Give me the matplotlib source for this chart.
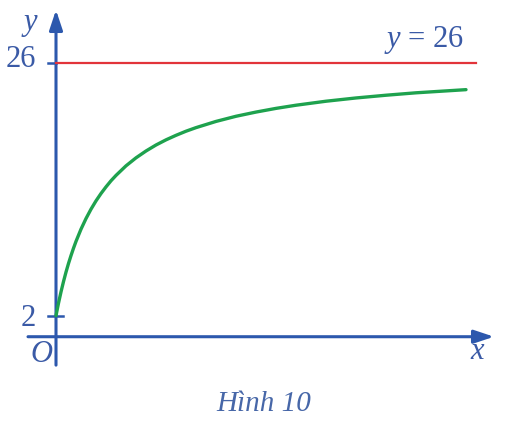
import matplotlib
matplotlib.use("Agg")
from matplotlib import pyplot as plt

plt.rcParams['font.family'] = ['Liberation Serif', 'DejaVu Serif']
plt.rcParams['mathtext.fontset'] = 'custom'
plt.rcParams['mathtext.rm'] = 'Liberation Serif'
plt.rcParams['mathtext.it'] = 'Liberation Serif:italic'

# giá trị
curve_x = [0, 0.25, 0.5, 0.75, 1, 1.25, 1.5, 1.75, 2, 2.5, 3, 3.5, 4, 4.5, 5, 5.5, 6, 7, 8, 9, 10,
           11, 12, 13, 14, 16, 18, 20, 22, 24, 27, 30, 33, 36, 41]
curve_y = [2.00, 3.19, 4.26, 5.24, 6.14, 6.96, 7.71, 8.41, 9.06, 10.22, 11.23, 12.12, 12.91, 13.61,
           14.24, 14.82, 15.33, 16.24, 17.00, 17.65, 18.22, 18.71, 19.14, 19.53, 19.87, 20.46,
           20.95, 21.35, 21.70, 22.00, 22.38, 22.69, 22.95, 23.18, 23.48]
asym_y = 26
asym_x = [0, 42]
y_ticks = [2, 26]
y_tick_labels = ['2', '26']

blue = '#2c58ad'
txt_blue = '#3a5aa6'
red = '#e2343a'
green = '#1ea24e'

fig = plt.figure(figsize=(5.08, 4.29), dpi=100)
ax = fig.add_axes([0, 0, 1, 1])
ax.set_xlim(-5.6, 45.2)
ax.set_ylim(-8.77, 32.0)
ax.axis('off')

# trục
ax.annotate('', xy=(43.8, 0), xytext=(-2.8, 0),
            arrowprops=dict(arrowstyle='-|>,head_length=1.2,head_width=0.4', lw=2.2, color=blue,
                            shrinkA=0, shrinkB=0))
ax.annotate('', xy=(0, 31.05), xytext=(0, -2.7),
            arrowprops=dict(arrowstyle='-|>,head_length=1.2,head_width=0.4', lw=2.2, color=blue,
                            shrinkA=0, shrinkB=0))

# vạch chia
ax.plot([-0.8, 0.7], [y_ticks[0], y_ticks[0]], color=blue, lw=1.8)
ax.plot([-0.8, 0], [y_ticks[1], y_ticks[1]], color=blue, lw=1.8)

ax.plot(asym_x, [asym_y, asym_y], color=red, lw=1.6, zorder=3)
ax.plot(curve_x, curve_y, color=green, lw=2.4, solid_capstyle='round', solid_joinstyle='round', zorder=4)

fs = 22
ax.text(-2.0, 26.3, y_tick_labels[1], ha='right', va='center', fontsize=fs, color=txt_blue)
ax.text(-2.0, 1.7, y_tick_labels[0], ha='right', va='center', fontsize=fs, color=txt_blue)
ax.text(-2.6, 29.9, 'y', ha='center', va='center', fontsize=fs, style='italic', color=txt_blue)
ax.text(-1.5, -1.65, 'O', ha='center', va='center', fontsize=fs, style='italic', color=txt_blue)
ax.text(42.1, -1.45, 'x', ha='center', va='center', fontsize=fs, style='italic', color=txt_blue)
ax.text(32.8, 28.2, '$y$ = 26', ha='left', va='center', fontsize=fs, color=txt_blue)
ax.text(20.8, -6.4, 'Hình 10', ha='center', va='center', fontsize=21, style='italic', color='#4767a8')

plt.savefig('out.png', dpi=100)
